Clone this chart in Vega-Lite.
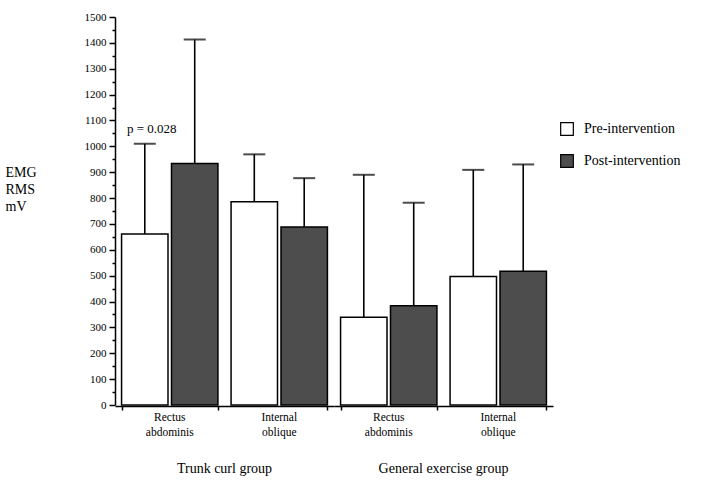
{
  "$schema": "https://vega.github.io/schema/vega-lite/v6.json",
  "padding": {"left": 5, "top": 11, "right": 5, "bottom": 5},
  "background": "white",
  "config": {
    "font": "Liberation Serif",
    "view": {"stroke": null},
    "axis": {"domainColor": "black", "tickColor": "black", "labelColor": "black", "domainWidth": 1.5, "tickWidth": 1.5, "grid": false, "labelFont": "Liberation Serif", "titleFont": "Liberation Serif"}
  },
  "data": {"values": [
    {"group": "Trunk curl group", "muscle": "Rectus abdominis", "phase": "Pre-intervention", "mean": 661, "upper": 1010, "note": "p = 0.028"},
    {"group": "Trunk curl group", "muscle": "Rectus abdominis", "phase": "Post-intervention", "mean": 934, "upper": 1413},
    {"group": "Trunk curl group", "muscle": "Internal oblique", "phase": "Pre-intervention", "mean": 786, "upper": 969},
    {"group": "Trunk curl group", "muscle": "Internal oblique", "phase": "Post-intervention", "mean": 688, "upper": 877},
    {"group": "General exercise group", "muscle": "Rectus abdominis", "phase": "Pre-intervention", "mean": 339, "upper": 890},
    {"group": "General exercise group", "muscle": "Rectus abdominis", "phase": "Post-intervention", "mean": 384, "upper": 782},
    {"group": "General exercise group", "muscle": "Internal oblique", "phase": "Pre-intervention", "mean": 497, "upper": 909},
    {"group": "General exercise group", "muscle": "Internal oblique", "phase": "Post-intervention", "mean": 517, "upper": 930}
  ]},
  "facet": {
    "column": {
      "field": "group", "type": "nominal", "title": null,
      "sort": ["Trunk curl group", "General exercise group"],
      "header": {"labelOrient": "bottom", "labelFontSize": 14, "labelPadding": 24, "labelColor": "black", "labelFont": "Liberation Serif"}
    }
  },
  "spacing": 0,
  "spec": {
    "width": 219,
    "height": 388,
    "encoding": {
      "x": {
        "field": "muscle", "type": "nominal", "title": null,
        "sort": ["Rectus abdominis", "Internal oblique"],
        "scale": {"paddingInner": 0.12, "paddingOuter": 0.06},
        "axis": null
      },
      "xOffset": {"field": "phase", "type": "nominal", "sort": ["Pre-intervention", "Post-intervention"], "scale": {"paddingInner": 0.07}}
    },
    "resolve": {"axis": {"x": "independent"}},
    "layer": [
      {
        "mark": {"type": "bar", "stroke": "black", "strokeWidth": 1.5},
        "encoding": {
          "x": {
            "field": "muscle", "type": "nominal", "title": null,
            "sort": ["Rectus abdominis", "Internal oblique"],
            "axis": {
              "orient": "bottom",
              "labelAngle": 0, "labelFontSize": 11.5, "labelLineHeight": 15, "ticks": false, "labelPadding": 5,
              "labelExpr": "datum.value == 'Rectus abdominis' ? ['Rectus', 'abdominis'] : ['Internal', 'oblique']"
            }
          },
          "y": {
            "field": "mean", "type": "quantitative",
            "scale": {"domain": [0, 1500], "nice": false},
            "axis": {
              "values": [0,50,100,150,200,250,300,350,400,450,500,550,600,650,700,750,800,850,900,950,1000,1050,1100,1150,1200,1250,1300,1350,1400,1450,1500],
              "format": "d",
              "labelOverlap": false,
              "labelExpr": "datum.value % 100 === 0 ? datum.label : ''",
              "tickSize": {"expr": "datum.value % 100 === 0 ? 6 : 3"},
              "labelFontSize": 11,
              "labelPadding": 3,
              "title": ["EMG", "RMS", "mV"],
              "titleAngle": 0, "titleAlign": "left", "titleBaseline": "top",
              "titleX": -110, "titleY": 148, "titleFontSize": 14, "titleFontWeight": "normal", "titleLineHeight": 17, "titleColor": "black"
            }
          },
          "fill": {
            "field": "phase", "type": "nominal",
            "sort": ["Pre-intervention", "Post-intervention"],
            "scale": {"domain": ["Pre-intervention", "Post-intervention"], "range": ["white", "#4d4d4d"]},
            "legend": {
              "title": null, "orient": "none", "legendX": 445, "legendY": 105,
              "symbolType": "square", "symbolSize": 160, "symbolStrokeColor": "black", "symbolStrokeWidth": 1.2,
              "labelFontSize": 14, "labelColor": "black", "labelFont": "Liberation Serif", "rowPadding": 14, "labelOffset": 10
            }
          }
        }
      },
      {
        "mark": {"type": "rule", "stroke": "black", "strokeWidth": 1.6},
        "encoding": {
          "x": {
            "field": "muscle", "type": "nominal", "title": null,
            "sort": ["Rectus abdominis", "Internal oblique"],
            "axis": {"orient": "bottom", "labels": false, "domain": false, "tickBand": "extent", "tickSize": 4, "ticks": true}
          },
          "y": {
            "field": "mean", "type": "quantitative",
            "axis": {
              "values": [0,50,100,150,200,250,300,350,400,450,500,550,600,650,700,750,800,850,900,950,1000,1050,1100,1150,1200,1250,1300,1350,1400,1450,1500],
              "format": "d",
              "labelOverlap": false,
              "labelExpr": "datum.value % 100 === 0 ? datum.label : ''",
              "tickSize": {"expr": "datum.value % 100 === 0 ? 6 : 3"},
              "labelFontSize": 11,
              "labelPadding": 3,
              "title": ["EMG", "RMS", "mV"],
              "titleAngle": 0, "titleAlign": "left", "titleBaseline": "top",
              "titleX": -110, "titleY": 148, "titleFontSize": 14, "titleFontWeight": "normal", "titleLineHeight": 17, "titleColor": "black"
            }
          },
          "y2": {"field": "upper"}
        }
      },
      {
        "mark": {"type": "tick", "color": "black", "size": 22, "thickness": 2, "orient": "horizontal"},
        "encoding": {
          "y": {
            "field": "upper", "type": "quantitative",
            "axis": {
              "values": [0,50,100,150,200,250,300,350,400,450,500,550,600,650,700,750,800,850,900,950,1000,1050,1100,1150,1200,1250,1300,1350,1400,1450,1500],
              "format": "d",
              "labelOverlap": false,
              "labelExpr": "datum.value % 100 === 0 ? datum.label : ''",
              "tickSize": {"expr": "datum.value % 100 === 0 ? 6 : 3"},
              "labelFontSize": 11,
              "labelPadding": 3,
              "title": ["EMG", "RMS", "mV"],
              "titleAngle": 0, "titleAlign": "left", "titleBaseline": "top",
              "titleX": -110, "titleY": 148, "titleFontSize": 14, "titleFontWeight": "normal", "titleLineHeight": 17, "titleColor": "black"
            }
          }
        }
      },
      {
        "transform": [{"filter": "isValid(datum.note)"}],
        "mark": {"type": "text", "fontSize": 13, "baseline": "bottom", "dy": -8, "dx": 7, "color": "black", "font": "Liberation Serif"},
        "encoding": {
          "y": {
            "field": "upper", "type": "quantitative",
            "axis": {
              "values": [0,50,100,150,200,250,300,350,400,450,500,550,600,650,700,750,800,850,900,950,1000,1050,1100,1150,1200,1250,1300,1350,1400,1450,1500],
              "format": "d",
              "labelOverlap": false,
              "labelExpr": "datum.value % 100 === 0 ? datum.label : ''",
              "tickSize": {"expr": "datum.value % 100 === 0 ? 6 : 3"},
              "labelFontSize": 11,
              "labelPadding": 3,
              "title": ["EMG", "RMS", "mV"],
              "titleAngle": 0, "titleAlign": "left", "titleBaseline": "top",
              "titleX": -110, "titleY": 148, "titleFontSize": 14, "titleFontWeight": "normal", "titleLineHeight": 17, "titleColor": "black"
            }
          },
          "text": {"field": "note"}
        }
      }
    ]
  }
}
